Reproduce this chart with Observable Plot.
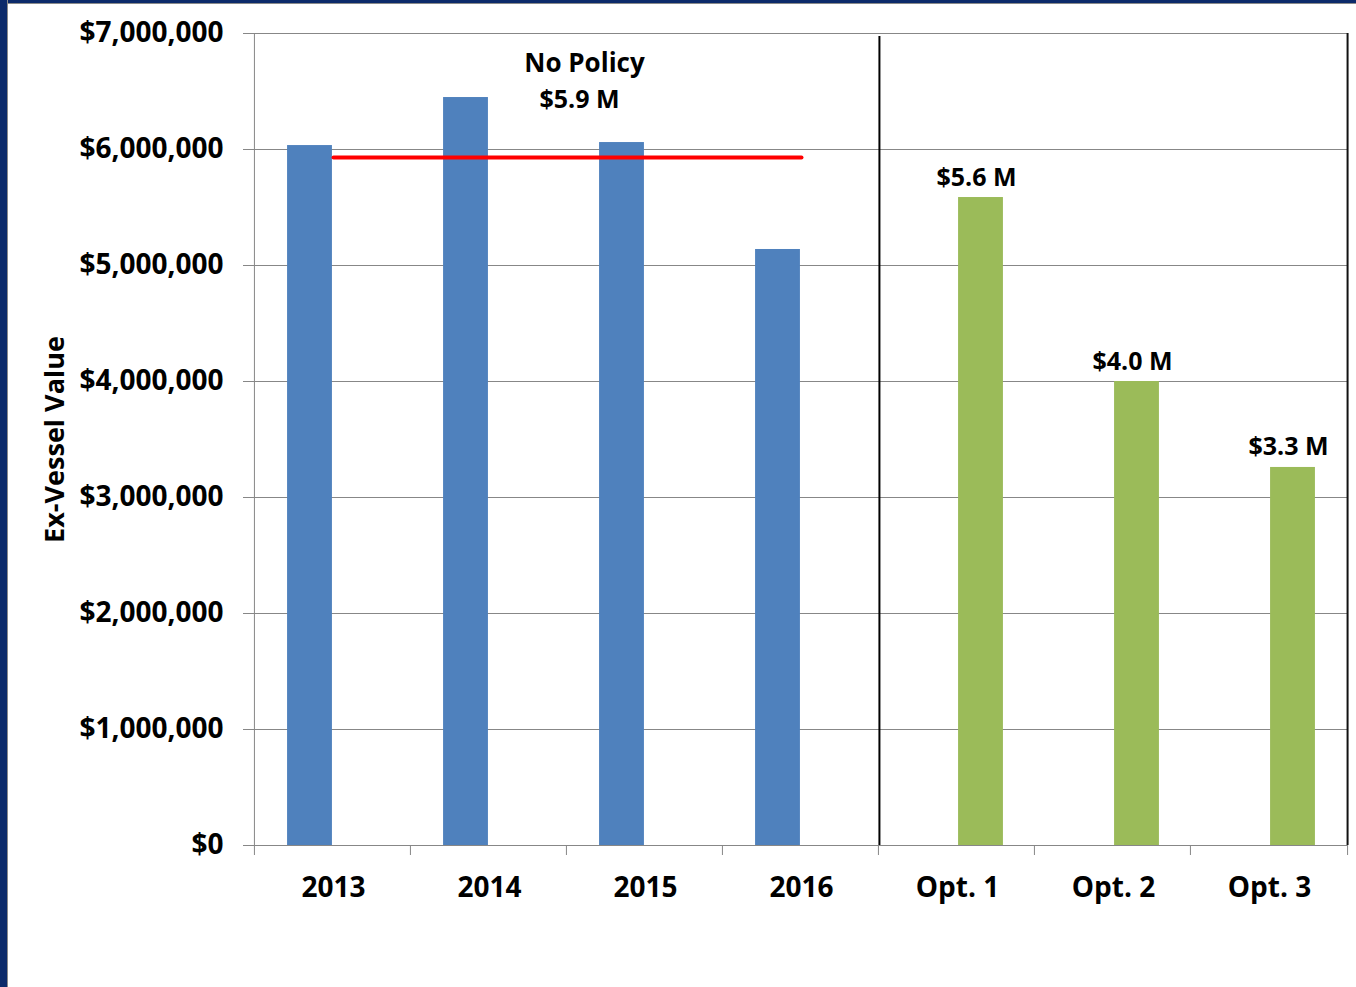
<!DOCTYPE html>
<html>
<head>
<meta charset="utf-8">
<script src="https://cdn.jsdelivr.net/npm/d3@7"></script>
<script src="https://cdn.jsdelivr.net/npm/@observablehq/plot@0.6"></script>
<style>
  html, body { margin: 0; padding: 0; background: #ffffff; width: 1356px; height: 987px; overflow: hidden; }
  #chart { position: absolute; left: 0; top: 0; }
  .bl { position: absolute; left: 0; top: 0; width: 7px; height: 987px; background: #0c2a6a; border-right: 1px solid #8a8a8a; }
  .bt { position: absolute; left: 0; top: 0; width: 1356px; height: 3px; background: #0c2a6a; border-bottom: 1px solid #8a8a8a; }
</style>
</head>
<body>
<div id="chart"></div>
<div class="bt"></div>
<div class="bl"></div>
<script>
// ---- data ----
const categories = ["2013", "2014", "2015", "2016", "Opt. 1", "Opt. 2", "Opt. 3"];
const historicalYears = ["2013", "2014", "2015", "2016"];
const historicalValues = [6034000, 6448000, 6060000, 5138000];
const optionNames = ["Opt. 1", "Opt. 2", "Opt. 3"];
const optionValues = [5586000, 4000000, 3259000];
const optionLabels = ["$5.6 M", "$4.0 M", "$3.3 M"];
const noPolicyAverage = 5930000;
const noPolicyLabel = "No Policy";
const noPolicyValueLabel = "$5.9 M";
const yTicks = [0, 1000000, 2000000, 3000000, 4000000, 5000000, 6000000, 7000000];
const yLabel = "Ex-Vessel Value";

// ---- layout ----
const W = 1356, H = 987;
const mL = 254, mR = 9, mT = 33, mB = 142;
const bw = (W - mL - mR) / categories.length;
const barW = 45;
const gap = 1;
const font = "'Open Sans', sans-serif";
const gridColor = "#878787";

const hist = historicalYears.map((c, i) => ({cat: c, value: historicalValues[i]}));
const opts = optionNames.map((c, i) => ({cat: c, value: optionValues[i], label: optionLabels[i]}));
const avgLine = [historicalYears[0], historicalYears[historicalYears.length - 1]].map(c => ({cat: c, value: noPolicyAverage}));

const chart = Plot.plot({
  width: W,
  height: H,
  marginLeft: mL,
  marginRight: mR,
  marginTop: mT,
  marginBottom: mB,
  style: {fontFamily: font, background: "transparent", color: "#000"},
  x: {domain: categories, padding: 0, axis: null},
  y: {domain: [0, 7000000], axis: null},
  marks: [
    // gridlines
    Plot.ruleY(yTicks, {stroke: gridColor, strokeWidth: 1}),
    // left axis line
    Plot.ruleX([categories[0]], {dx: -bw / 2 - 1, stroke: gridColor, strokeWidth: 1}),
    // y axis ticks and labels
    Plot.axisY(yTicks, {
      tickSize: 11, tickPadding: 20, stroke: gridColor,
      tickFormat: d3.format("$,.0f"),
      fontSize: 28, fontWeight: 700, fontFamily: font, fill: "#000", label: null
    }),
    // bars
    Plot.barY(hist, {x: "cat", y: "value", fill: "#4f81bd",
      insetLeft: bw / 2 - barW - gap, insetRight: bw / 2 + gap}),
    Plot.barY(opts, {x: "cat", y: "value", fill: "#9bbb59",
      insetLeft: bw / 2 + gap, insetRight: bw / 2 - barW - gap}),
    // average line
    Plot.line(avgLine, {x: "cat", y: "value", stroke: "#ff0000", strokeWidth: 4, strokeLinecap: "round"}),
    // separator
    Plot.ruleX([optionNames[0]], {dx: -bw / 2, y1: 0, y2: 6975000, stroke: "#000", strokeWidth: 2}),
    // right frame edge
    Plot.ruleX([categories[categories.length - 1]], {dx: bw / 2, stroke: "#111", strokeWidth: 2}),
    // x boundary ticks
    Plot.axisX(categories, {tickSize: 10, tickFormat: () => "", dx: -bw / 2 - 1, stroke: gridColor, label: null}),
    Plot.axisX([categories[categories.length - 1]], {tickSize: 10, tickFormat: () => "", dx: bw / 2, stroke: gridColor, label: null}),
    // x labels
    Plot.axisX(categories, {tickSize: 0, tickPadding: 32, fontSize: 28, fontWeight: 700, fontFamily: font, fill: "#000", label: null}),
    // option value labels
    Plot.text(opts, {x: "cat", y: "value", text: "label", dx: 19, dy: -20,
      fontSize: 25, fontWeight: 700, fontFamily: font, fill: "#000"}),
    // No Policy annotation
    Plot.text([noPolicyLabel], {x: () => historicalYears[2], y: () => 6740000, text: d => d, dx: -61,
      fontSize: 26, fontWeight: 700, fontFamily: font, fill: "#000"}),
    Plot.text([noPolicyValueLabel], {x: () => historicalYears[2], y: () => 6430000, text: d => d, dx: -66,
      fontSize: 25, fontWeight: 700, fontFamily: font, fill: "#000"}),
    // y axis title
    Plot.text([yLabel], {frameAnchor: "left", text: d => d, dx: -199, rotate: -90, textAnchor: "middle",
      fontSize: 27, fontWeight: 700, fontFamily: font, fill: "#000"})
  ]
});
document.getElementById("chart").appendChild(chart);
</script>
</body>
</html>
